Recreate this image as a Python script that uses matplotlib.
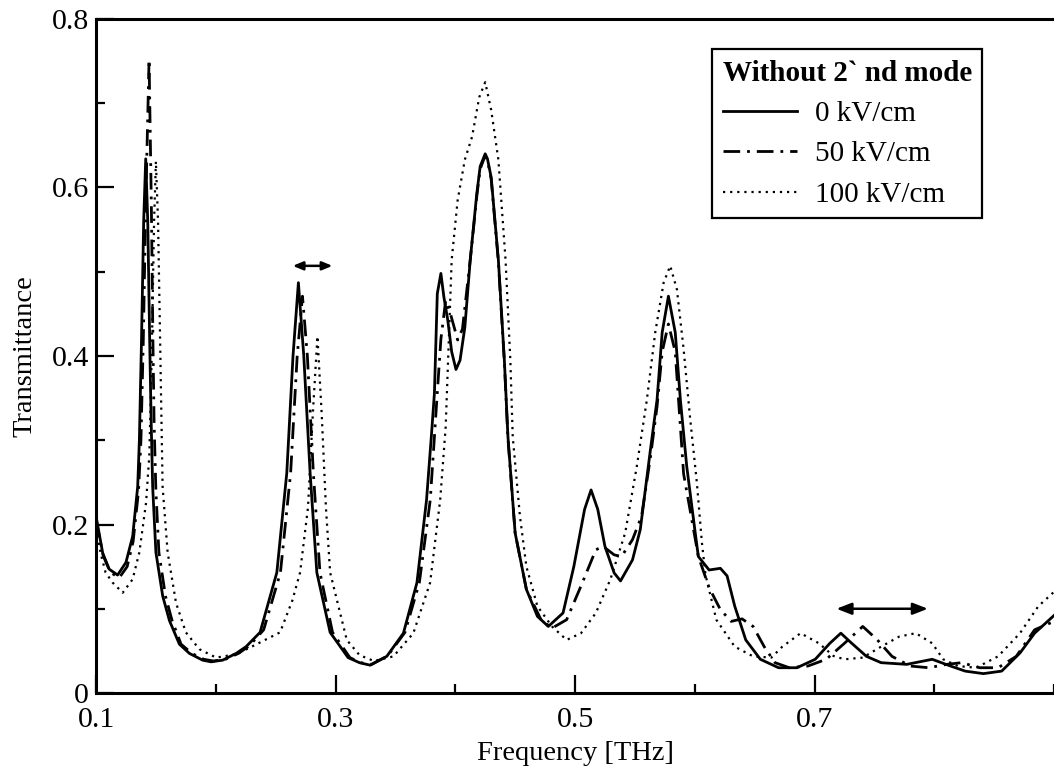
import matplotlib.pyplot as plt
from matplotlib.ticker import MultipleLocator

# 0 kV/cm (solid)
freq_0 = [0.100, 0.1056, 0.111, 0.118, 0.125, 0.1306, 0.1348, 0.1362, 0.1380,
          0.1398, 0.1415, 0.1432, 0.1448, 0.1460, 0.1473, 0.150, 0.1557,
          0.1613, 0.1696, 0.178, 0.189, 0.196, 0.2058, 0.217, 0.2253, 0.237,
          0.251, 0.2593, 0.2645, 0.269, 0.2735, 0.2788, 0.2844, 0.2955,
          0.3105, 0.320, 0.329, 0.3428, 0.3567, 0.368, 0.376, 0.380, 0.3826,
          0.385, 0.388, 0.3905, 0.3937, 0.3970, 0.4006, 0.404, 0.408, 0.4125,
          0.418, 0.4208, 0.425, 0.4269, 0.430, 0.436, 0.441, 0.444, 0.450,
          0.4594, 0.4686, 0.4777, 0.490, 0.499, 0.508, 0.5134, 0.519, 0.525,
          0.5327, 0.538, 0.548, 0.5545, 0.563, 0.5685, 0.5728, 0.578, 0.5837,
          0.588, 0.5933, 0.6004, 0.603, 0.612, 0.6214, 0.627, 0.6334, 0.6426,
          0.6548, 0.670, 0.6853, 0.7006, 0.7128, 0.722, 0.7311, 0.7434,
          0.7556, 0.777, 0.7983, 0.8136, 0.8258, 0.841, 0.8563, 0.8716,
          0.8838, 0.900]
trans_0 = [0.210, 0.166, 0.147, 0.140, 0.155, 0.186, 0.245, 0.300, 0.420,
           0.560, 0.634, 0.560, 0.420, 0.325, 0.245, 0.167, 0.115, 0.086,
           0.058, 0.047, 0.039, 0.037, 0.039, 0.047, 0.055, 0.072, 0.143,
           0.261, 0.400, 0.487, 0.400, 0.261, 0.143, 0.072, 0.042, 0.036,
           0.033, 0.0435, 0.071, 0.131, 0.229, 0.304, 0.356, 0.474, 0.498,
           0.470, 0.443, 0.405, 0.384, 0.395, 0.434, 0.514, 0.593, 0.625,
           0.640, 0.634, 0.612, 0.514, 0.395, 0.304, 0.190, 0.123, 0.091,
           0.079, 0.095, 0.150, 0.218, 0.241, 0.218, 0.174, 0.1425, 0.133,
           0.158, 0.194, 0.289, 0.348, 0.428, 0.471, 0.428, 0.348, 0.269,
           0.190, 0.162, 0.146, 0.148, 0.139, 0.103, 0.063, 0.040, 0.030,
           0.030, 0.040, 0.059, 0.071, 0.059, 0.0435, 0.036, 0.034, 0.040,
           0.032, 0.026, 0.023, 0.026, 0.0475, 0.071, 0.092]

# 50 kV/cm (dash-dot)
freq_50 = [0.100, 0.106, 0.112, 0.1195, 0.126, 0.131, 0.1355, 0.1375, 0.1395,
           0.1415, 0.1443, 0.1462, 0.1475, 0.1485, 0.150, 0.1525, 0.158,
           0.1635, 0.171, 0.180, 0.190, 0.198, 0.208, 0.219, 0.228, 0.240,
           0.254, 0.2625, 0.268, 0.2724, 0.2765, 0.2815, 0.2870, 0.2975,
           0.312, 0.321, 0.330, 0.3435, 0.358, 0.370, 0.3791, 0.3826, 0.3846,
           0.388, 0.392, 0.396, 0.402, 0.406, 0.4125, 0.418, 0.4208, 0.425,
           0.4269, 0.430, 0.436, 0.441, 0.444, 0.450, 0.4594, 0.4716, 0.4808,
           0.493, 0.505, 0.5174, 0.5235, 0.5327, 0.5388, 0.548, 0.5556, 0.563,
           0.5685, 0.5728, 0.578, 0.5837, 0.5907, 0.597, 0.603, 0.612, 0.6214,
           0.6304, 0.6395, 0.6487, 0.658, 0.667, 0.679, 0.6945, 0.7098, 0.725,
           0.7403, 0.7525, 0.7647, 0.780, 0.7953, 0.8105, 0.8228, 0.838,
           0.8533, 0.8685, 0.8838, 0.900]
trans_50 = [0.205, 0.163, 0.143, 0.137, 0.150, 0.180, 0.240, 0.300, 0.420,
            0.580, 0.752, 0.580, 0.420, 0.320, 0.240, 0.167, 0.115, 0.086,
            0.058, 0.047, 0.040, 0.038, 0.040, 0.047, 0.056, 0.075, 0.143,
            0.261, 0.400, 0.471, 0.400, 0.261, 0.143, 0.072, 0.042, 0.036,
            0.034, 0.044, 0.072, 0.131, 0.229, 0.304, 0.348, 0.420, 0.466,
            0.450, 0.419, 0.432, 0.514, 0.590, 0.622, 0.638, 0.632, 0.610,
            0.512, 0.393, 0.302, 0.190, 0.123, 0.087, 0.077, 0.087, 0.127,
            0.170, 0.174, 0.164, 0.162, 0.182, 0.210, 0.280, 0.340, 0.405,
            0.438, 0.405, 0.260, 0.210, 0.162, 0.125, 0.099, 0.085, 0.088,
            0.079, 0.055, 0.036, 0.030, 0.032, 0.040, 0.059, 0.079, 0.063,
            0.0435, 0.032, 0.030, 0.034, 0.036, 0.030, 0.030, 0.0435, 0.075,
            0.085]

# 100 kV/cm (dotted)
freq_100 = [0.100, 0.104, 0.108, 0.1139, 0.1223, 0.1306, 0.1362, 0.1418,
            0.1445, 0.1465, 0.1485, 0.150, 0.1518, 0.1535, 0.1556, 0.1598,
            0.1668, 0.175, 0.1863, 0.2003, 0.217, 0.230, 0.2537, 0.264,
            0.2704, 0.277, 0.281, 0.2849, 0.2885, 0.292, 0.2955, 0.3094,
            0.320, 0.332, 0.3484, 0.365, 0.379, 0.3874, 0.392, 0.395, 0.397,
            0.402, 0.408, 0.414, 0.420, 0.425, 0.430, 0.436, 0.442, 0.446,
            0.448, 0.454, 0.4594, 0.4686, 0.4808, 0.493, 0.505, 0.5174,
            0.5296, 0.5419, 0.5516, 0.560, 0.567, 0.574, 0.5795, 0.5851,
            0.5907, 0.596, 0.6018, 0.606, 0.609, 0.618, 0.6334, 0.6487, 0.664,
            0.6731, 0.6884, 0.7037, 0.7158, 0.725, 0.7403, 0.7556, 0.7708,
            0.7846, 0.7983, 0.8075, 0.8197, 0.835, 0.8533, 0.8716, 0.8869,
            0.900]
trans_100 = [0.195, 0.165, 0.143, 0.131, 0.119, 0.135, 0.167, 0.226, 0.282,
             0.400, 0.560, 0.631, 0.560, 0.420, 0.245, 0.167, 0.107, 0.072,
             0.052, 0.042, 0.046, 0.055, 0.072, 0.110, 0.143, 0.220, 0.330,
             0.4235, 0.330, 0.220, 0.143, 0.063, 0.045, 0.038, 0.0435, 0.071,
             0.131, 0.229, 0.316, 0.434, 0.514, 0.585, 0.633, 0.660, 0.707,
             0.725, 0.692, 0.633, 0.514, 0.395, 0.304, 0.210, 0.150, 0.103,
             0.079, 0.063, 0.071, 0.095, 0.135, 0.190, 0.269, 0.348, 0.428,
             0.487, 0.507, 0.479, 0.408, 0.328, 0.249, 0.178, 0.140, 0.087,
             0.055, 0.0435, 0.042, 0.055, 0.071, 0.059, 0.044, 0.040, 0.042,
             0.055, 0.067, 0.071, 0.059, 0.040, 0.032, 0.030, 0.0435, 0.071,
             0.103, 0.120]

# shift arrows (start, end, level)
arrow_a = (0.2643, 0.2974, 0.507)
arrow_b = (0.7183, 0.7947, 0.100)

plt.rcParams['font.family'] = ['Liberation Serif', 'DejaVu Serif']

fig = plt.figure(figsize=(10.54, 7.75), dpi=100)
ax = fig.add_axes([0.0911, 0.1058, 0.9089, 0.8697])

ax.plot(freq_0, trans_0, color='black', lw=2.0, ls='-',
        solid_joinstyle='round', label='0 kV/cm')
ax.plot(freq_50, trans_50, color='black', lw=2.0,
        ls=(0, (6, 2.5, 1, 2.5)), label='50 kV/cm')
ax.plot(freq_100, trans_100, color='black', lw=1.6,
        ls=(0, (1, 2.2)), label='100 kV/cm')

for x0, x1, yv in (arrow_a, arrow_b):
    head = '<|-|>,head_length=0.9,head_width=0.35' if x1 - x0 > 0.05 \
        else '<|-|>,head_length=0.6,head_width=0.25'
    ax.annotate('', xy=(x1, yv), xytext=(x0, yv),
                arrowprops=dict(arrowstyle=head, color='black', lw=1.8,
                                shrinkA=0, shrinkB=0))

ax.set_xlim(0.1, 0.9)
ax.set_ylim(0, 0.8)
ax.xaxis.set_minor_locator(MultipleLocator(0.1))
ax.yaxis.set_minor_locator(MultipleLocator(0.1))
ax.set_xticks([0.1, 0.3, 0.5, 0.7])
ax.set_xticklabels(['0.1', '0.3', '0.5', '0.7'])
ax.set_yticks([0, 0.2, 0.4, 0.6, 0.8])
ax.set_yticklabels(['0', '0.2', '0.4', '0.6', '0.8'])

ax.tick_params(which='both', direction='in', width=1.6,
               top=False, right=False, labelsize=21.5)
ax.tick_params(which='major', length=13)
ax.tick_params(which='minor', length=6.5)
ax.tick_params(axis='x', pad=10)
ax.tick_params(axis='y', pad=5)

ax.spines['right'].set_visible(False)
for side in ('left', 'bottom', 'top'):
    ax.spines[side].set_linewidth(2.2)

ax.set_xlabel('Frequency [THz]', fontsize=20.5, labelpad=6)
ax.set_ylabel('Transmittance', fontsize=20.5, labelpad=10)

leg = ax.legend(loc='upper right', bbox_to_anchor=(0.925, 0.955),
                borderaxespad=0,
                title='Without 2` nd mode', fontsize=21,
                title_fontproperties={'weight': 'bold', 'size': 21},
                fancybox=False, framealpha=1, edgecolor='black',
                handlelength=2.55, handletextpad=0.62, labelspacing=0.48,
                borderpad=0.35, alignment='left')
leg.get_frame().set_linewidth(1.6)

fig.savefig('out.png', dpi=100)
